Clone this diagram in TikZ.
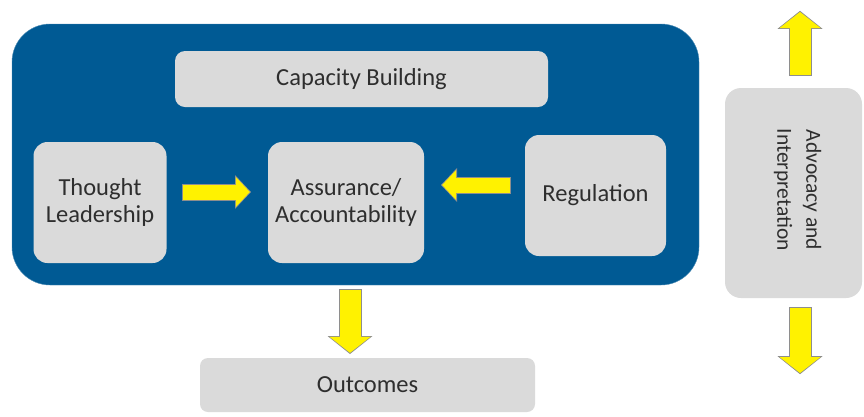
\documentclass[tikz,border=0pt]{standalone}
\usepackage{fontspec}
\setmainfont{Carlito}
\usepackage{tikz}
\usetikzlibrary{arrows.meta}

\definecolor{panelblue}{HTML}{005A94}
\definecolor{boxgray}{HTML}{DADADA}
\definecolor{textgray}{HTML}{2E2E2E}
\definecolor{arrowedge}{HTML}{8E8E8E}

\tikzset{
	box/.style={fill=boxgray,rounded corners=14pt,text=textgray,align=center,inner sep=0pt,font=\fontsize{24.5}{27}\selectfont},
	harrow/.style={draw=yellow,line width=15pt,-{Triangle[length=14pt,width=30pt,line width=0pt]},
		preaction={draw=arrowedge,line width=17pt,shorten >=-1.2pt,shorten <=-1pt,-{Triangle[length=16pt,width=34pt,line width=0pt]}}},
	varrow/.style={draw=yellow,line width=21pt,-{Triangle[length=16pt,width=41pt,line width=0pt]},
		preaction={draw=arrowedge,line width=23pt,shorten >=-1.2pt,shorten <=-1pt,-{Triangle[length=18pt,width=45pt,line width=0pt]}}}
}

\begin{document}
\begin{tikzpicture}[x=1pt,y=-1pt]
	\useasboundingbox (0,0) rectangle (864,416);
	\node (panel) [fill=panelblue,draw=panelblue!70!white,rounded corners=38pt,minimum width=687pt,minimum height=261pt] at (355.5,154.5) {};
	\node (cap) [box,rounded corners=10pt,minimum width=373pt,minimum height=56pt] at (361.5,79) {Capacity Building};
	\node (tl) [box,minimum width=133pt,minimum height=121pt] at (100,202.5) {Thought\\Leadership};
	\node (as) [box,minimum width=156pt,minimum height=121pt] at (346,202.5) {Assurance/\\Accountability};
	\node (reg) [box,minimum width=141pt,minimum height=121pt] at (595.5,195.5) {Regulation};
	\node (out) [box,rounded corners=8pt,minimum width=335pt,minimum height=54pt] at (367.5,385) {Outcomes};
	\node (adv) [box,rounded corners=16pt,minimum width=137pt,minimum height=210pt] at (793.5,193) {};
	\node (advtext) [text=textgray,align=center,rotate=-90,font=\fontsize{21.5}{29}\selectfont] at ([shift={(4,-3)}]adv.center) {Advocacy and\\Interpretation};
	\coordinate (advtop) at (800,12);
	\coordinate (advbot) at (800,373);

	\draw[harrow] ([shift={(16.5,-10.5)}]tl.east) -- ([shift={(-18,-10.5)}]as.west);
	\draw[harrow] ([shift={(-15,-10.5)}]reg.west) -- ([shift={(18,-17.5)}]as.east);
	\draw[varrow] ([shift={(4,27)}]as.south) -- ([shift={(-17.5,-5)}]out.north);
	\draw[varrow] ([shift={(6.5,-13)}]adv.north) -- (advtop);
	\draw[varrow] ([shift={(6.5,10)}]adv.south) -- (advbot);
\end{tikzpicture}
\end{document}
